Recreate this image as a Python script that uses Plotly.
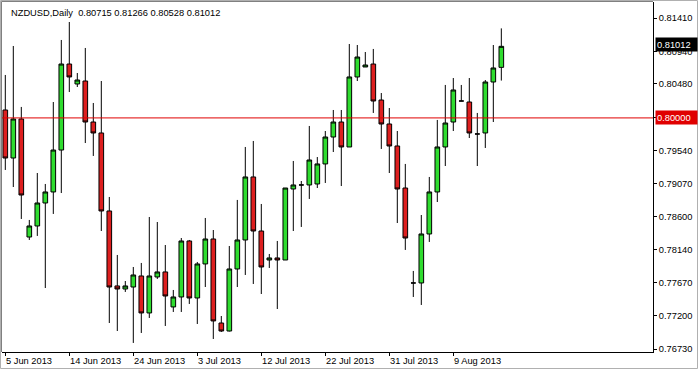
import plotly.graph_objects as go
import pandas as pd

# ---- data (NZDUSD daily, 5 Jun 2013 - 16 Aug 2013, incl. Sunday bars) ----
dates = [d for d in pd.date_range("2013-06-05", "2013-08-16", freq="D") if d.weekday() != 5]

open_ = [0.80112, 0.79433, 0.79985, 0.78316, 0.78472, 0.78797, 0.78953, 0.79546, 0.80762, 0.80480,
         0.80522, 0.79942, 0.79787, 0.78684, 0.77624, 0.77581, 0.77609, 0.77765, 0.77242, 0.77751,
         0.77822, 0.77327, 0.77468, 0.78260, 0.77454, 0.77935, 0.78288, 0.77100, 0.76987, 0.77864,
         0.78274, 0.79165, 0.78401, 0.77991, 0.78020, 0.77991, 0.78995, 0.79052, 0.79052, 0.79066,
         0.79349, 0.79730, 0.79942, 0.79589, 0.80579, 0.80720, 0.80762, 0.80253, 0.79914, 0.79603,
         0.79009, 0.77666, 0.77666, 0.78359, 0.78953, 0.79589, 0.79942, 0.80239, 0.80225, 0.79773,
         0.79787, 0.80508, 0.80715]
high = [0.80607, 0.81017, 0.80155, 0.78557, 0.79221, 0.79066, 0.80225, 0.81102, 0.81356, 0.80635,
        0.80989, 0.80211, 0.80522, 0.78882, 0.78062, 0.77694, 0.77892, 0.77949, 0.78599, 0.78528,
        0.78203, 0.77567, 0.78302, 0.78274, 0.77963, 0.78585, 0.78415, 0.77199, 0.78189, 0.78840,
        0.79589, 0.79674, 0.78783, 0.78076, 0.78260, 0.79009, 0.79391, 0.79108, 0.79886, 0.79447,
        0.79815, 0.80112, 0.80112, 0.81045, 0.81031, 0.80932, 0.80975, 0.80352, 0.80140, 0.79815,
        0.79349, 0.77836, 0.78627, 0.79165, 0.79971, 0.80466, 0.80564, 0.80466, 0.80564, 0.80070,
        0.80536, 0.81031, 0.81266]
low = [0.79264, 0.79023, 0.78571, 0.78274, 0.78331, 0.77595, 0.78642, 0.78938, 0.80366, 0.80437,
       0.79645, 0.79462, 0.78401, 0.77100, 0.76987, 0.77539, 0.76818, 0.76959, 0.77171, 0.77723,
       0.77058, 0.77256, 0.77256, 0.77369, 0.77086, 0.77609, 0.76874, 0.76973, 0.76980, 0.77609,
       0.77779, 0.77652, 0.77510, 0.77878, 0.77298, 0.77991, 0.78401, 0.78458, 0.78854, 0.79009,
       0.79080, 0.79518, 0.79037, 0.79589, 0.80522, 0.80720, 0.80070, 0.79561, 0.79221, 0.78514,
       0.78133, 0.77468, 0.77355, 0.78246, 0.78811, 0.79320, 0.79815, 0.80239, 0.79716, 0.79320,
       0.79575, 0.79942, 0.80528]
close = [0.79433, 0.79985, 0.78910, 0.78472, 0.78797, 0.78953, 0.79546, 0.80762, 0.80579, 0.80536,
         0.79942, 0.79787, 0.78684, 0.77609, 0.77581, 0.77624, 0.77779, 0.77242, 0.77765, 0.77822,
         0.77482, 0.77468, 0.78260, 0.77454, 0.77935, 0.78288, 0.77129, 0.76987, 0.77864, 0.78274,
         0.79165, 0.78401, 0.77892, 0.78020, 0.77991, 0.79009, 0.79052, 0.79052, 0.79405, 0.79349,
         0.79730, 0.79942, 0.79589, 0.80579, 0.80861, 0.80748, 0.80239, 0.79914, 0.79603, 0.78995,
         0.78302, 0.77666, 0.78359, 0.78953, 0.79589, 0.79928, 0.80395, 0.80239, 0.79787, 0.79773,
         0.80508, 0.80706, 0.81012]

x_tick_labels = ["5 Jun 2013", "14 Jun 2013", "24 Jun 2013", "3 Jul 2013",
                 "12 Jul 2013", "22 Jul 2013", "31 Jul 2013", "9 Aug 2013"]
y_tick_vals = [0.81410, 0.80940, 0.80480, 0.80010, 0.79540, 0.79070,
               0.78600, 0.78140, 0.77670, 0.77200, 0.76730]
level_line = 0.80000
symbol_title = "NZDUSD,Daily"

# ---- figure ----
W, H = 698, 371
L, R, T, B = 2, 45, 2, 19
PW, PH = W - L - R, H - T - B
FONT = "Liberation Sans"
FS = 9.3

def px_x(px):
    return (px - L) / PW

def px_y(py):
    return 1 - (py - T) / PH

idx = list(range(len(dates)))
label_keys = [d.strftime("%-d %b %Y") for d in dates]
tick_idx = [label_keys.index(t) for t in x_tick_labels]

# the tick that sits under the red level label is hidden by it in the original
y_tick_text = ["" if abs(v - level_line) < 0.0002 else f"{v:.5f}" for v in y_tick_vals]

fig = go.Figure()
fig.add_trace(go.Candlestick(
    x=idx, open=open_, high=high, low=low, close=close,
    increasing=dict(line=dict(color="black", width=1), fillcolor="#2fdc2f"),
    decreasing=dict(line=dict(color="black", width=1), fillcolor="#dd1f1f"),
    whiskerwidth=0, showlegend=False, hoverinfo="skip",
))

fig.update_layout(
    width=W, height=H,
    margin=dict(l=L, r=R, t=T, b=B, pad=0),
    paper_bgcolor="white", plot_bgcolor="white",
    boxgap=0.42, boxgroupgap=0,
    font=dict(family=FONT, size=FS, color="black"),
    xaxis=dict(
        range=[-0.4125, 80.96], rangeslider=dict(visible=False),
        showgrid=False, zeroline=False, showline=True, linecolor="black", linewidth=1,
        ticks="outside", ticklen=3, tickcolor="black",
        tickvals=tick_idx, showticklabels=False,
    ),
    yaxis=dict(
        side="right", range=[0.76690, 0.81639],
        showgrid=False, zeroline=False, showline=True, linecolor="black", linewidth=1,
        ticks="outside", ticklen=3, tickcolor="black",
        tickvals=y_tick_vals, ticktext=y_tick_text,
        tickfont=dict(family=FONT, size=FS, color="black"),
    ),
)

# horizontal level line
fig.add_shape(type="line", xref="paper", yref="y", x0=0, x1=1, y0=level_line, y1=level_line,
              line=dict(color="#e00000", width=1))

# left / top frame lines and outer window border
fig.add_shape(type="line", xref="paper", yref="paper", x0=px_x(1.5), x1=px_x(1.5), y0=px_y(352), y1=px_y(1.5),
              line=dict(color="#808080", width=1))
fig.add_shape(type="line", xref="paper", yref="paper", x0=px_x(1.5), x1=px_x(653), y0=px_y(1.5), y1=px_y(1.5),
              line=dict(color="#808080", width=1))
fig.add_shape(type="rect", xref="paper", yref="paper", x0=px_x(0.5), x1=px_x(697.5), y0=px_y(368.5), y1=px_y(0.5),
              line=dict(color="#b0b0b0", width=1), layer="below")

# x tick labels (left-aligned at tick)
for t, lab in zip(tick_idx, x_tick_labels):
    fig.add_annotation(x=t, xref="x", y=px_y(361), yref="paper", text=lab, showarrow=False,
                       xanchor="left", yanchor="middle", xshift=-1,
                       font=dict(family=FONT, size=FS, color="black"))

# title line
title_txt = symbol_title + "\u00a0\u00a0" + " ".join(f"{v:.5f}" for v in
                                                   (open_[-1], high[-1], low[-1], close[-1]))
fig.add_annotation(x=px_x(9), xref="paper", y=px_y(13), yref="paper", text=title_txt, showarrow=False,
                   xanchor="left", yanchor="middle", font=dict(family=FONT, size=FS, color="black"))

# price labels on the right axis
for val, bg, ys in [(close[-1], "black", 1.5), (level_line, "#e00000", 0.5)]:
    fig.add_annotation(x=px_x(655), xref="paper", y=val, yref="y", text=f"{val:.5f}", showarrow=False,
                       xanchor="left", yanchor="middle", yshift=ys, align="left",
                       width=39, height=11, borderpad=1, bgcolor=bg,
                       font=dict(family=FONT, size=FS, color="white"))

fig.write_html("out.html")
